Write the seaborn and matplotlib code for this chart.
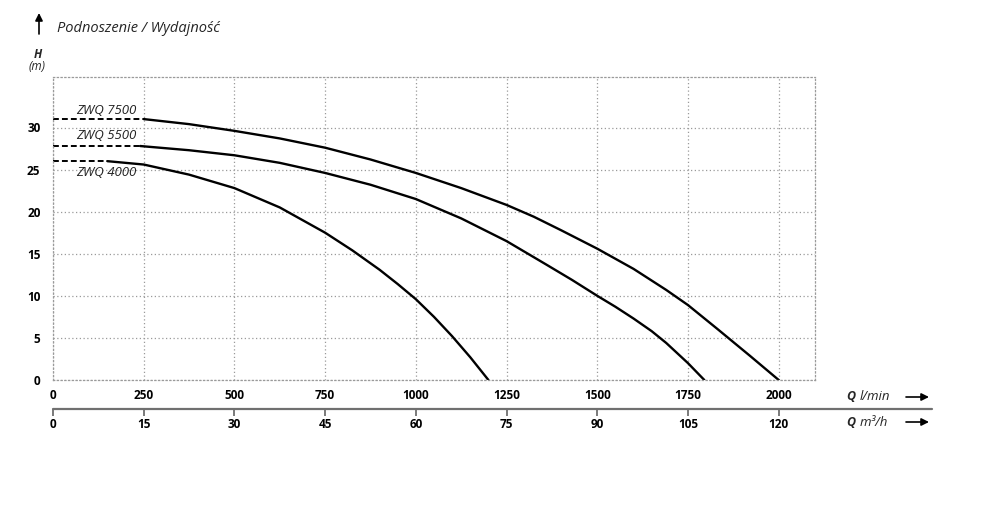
import matplotlib
matplotlib.use("Agg")
import matplotlib.pyplot as plt
import seaborn as sns
import pandas as pd

# ---- data ----
q_7500 = [250, 375, 500, 625, 750, 875, 1000, 1125, 1250, 1325, 1400, 1500, 1600, 1690, 1750, 1830, 1920, 2000]
h_7500 = [31.0, 30.4, 29.6, 28.7, 27.6, 26.2, 24.6, 22.8, 20.8, 19.4, 17.8, 15.6, 13.2, 10.7, 8.9, 6.1, 2.9, 0.0]

q_5500 = [240, 375, 500, 625, 750, 875, 1000, 1125, 1250, 1360, 1430, 1500, 1550, 1600, 1650, 1690, 1750, 1795]
h_5500 = [27.8, 27.3, 26.7, 25.8, 24.6, 23.2, 21.5, 19.2, 16.5, 13.7, 11.9, 10.0, 8.7, 7.3, 5.8, 4.4, 2.0, 0.0]

q_4000 = [150, 250, 375, 500, 625, 750, 825, 900, 950, 1000, 1050, 1100, 1150, 1200]
h_4000 = [26.0, 25.6, 24.4, 22.8, 20.5, 17.5, 15.4, 13.1, 11.4, 9.6, 7.5, 5.2, 2.7, 0.0]

dash_q = {"ZWQ 7500": [0, 250], "ZWQ 5500": [0, 240], "ZWQ 4000": [0, 150]}
dash_h = {"ZWQ 7500": [31.0, 31.0], "ZWQ 5500": [27.8, 27.8], "ZWQ 4000": [26.0, 26.0]}

labels = ["ZWQ 7500", "ZWQ 5500", "ZWQ 4000"]
label_h = [32.0, 29.1, 24.6]

q_lmin_ticks = [0, 250, 500, 750, 1000, 1250, 1500, 1750, 2000]
q_m3h_ticks = [0, 15, 30, 45, 60, 75, 90, 105, 120]
h_ticks = [0, 5, 10, 15, 20, 25, 30]

title = "Podnoszenie / Wydajność"

# ---- style ----
sns.set_theme(style="white")
plt.rcParams["font.family"] = ["Open Sans", "DejaVu Sans"]

W, H = 989, 509
fig = plt.figure(figsize=(W / 100, H / 100), dpi=100)
ax = fig.add_axes([53 / W, 1 - 380 / H, (815 - 53) / W, (380 - 77) / H])

def fx(px):
    return px / W

def fy(py):
    return 1 - py / H

curves = pd.concat([
    pd.DataFrame({"Q": q_7500, "H": h_7500, "pump": "ZWQ 7500"}),
    pd.DataFrame({"Q": q_5500, "H": h_5500, "pump": "ZWQ 5500"}),
    pd.DataFrame({"Q": q_4000, "H": h_4000, "pump": "ZWQ 4000"}),
])
for name in labels:
    d = curves[curves["pump"] == name]
    sns.lineplot(data=d, x="Q", y="H", color="black", lw=1.7, ax=ax,
                 sort=False, estimator=None)
    ax.lines[-1].set_solid_joinstyle("round")
    dd = pd.DataFrame({"Q": dash_q[name], "H": dash_h[name]})
    sns.lineplot(data=dd, x="Q", y="H", color="black", lw=1.4, ax=ax,
                 sort=False, estimator=None)
    ax.lines[-1].set_linestyle((0, (3, 1.6)))

for name, hy in zip(labels, label_h):
    ax.text(229, hy, name, ha="right", va="center", fontsize=9.5,
            style="italic", color="#222222")

ax.set_xlim(0, 2100)
ax.set_ylim(0, 36)
ax.set_xticks(q_lmin_ticks)
ax.set_yticks(h_ticks)
ax.set_xticklabels([str(v) for v in q_lmin_ticks], fontweight="bold", fontsize=8.5)
ax.set_yticklabels([str(v) for v in h_ticks], fontweight="bold", fontsize=8.5)
ax.tick_params(axis="x", length=0, pad=6.5, colors="black")
ax.tick_params(axis="y", length=0, pad=9, colors="black")
ax.set_xlabel("")
ax.set_ylabel("")

grid_kw = dict(color="#9a9a9a", lw=0.9, ls=(0, (1, 2)))
ax.grid(True, **grid_kw)
for s in ax.spines.values():
    s.set_color("#9a9a9a")
    s.set_linewidth(0.9)
    s.set_linestyle((0, (1, 2)))

# secondary m3/h axis
loc = -(409 - 380) / (380 - 77)
sec = ax.secondary_xaxis(loc, functions=(lambda q: q * 0.06, lambda m: m / 0.06))
sec.set_xticks(q_m3h_ticks)
sec.set_xticklabels([str(v) for v in q_m3h_ticks], fontweight="bold", fontsize=8.5)
sec.tick_params(axis="x", length=5, width=1.3, color="#707070", pad=1.5, labelcolor="black")
sec.spines["bottom"].set_visible(False)
ax.plot([0, (932 - 53) / (815 - 53)], [loc, loc], transform=ax.transAxes,
        color="#707070", lw=1.6, clip_on=False)

# axis labels and arrows
for py, unit in [(397, "l/min"), (422, "m³/h")]:
    fig.text(fx(846), fy(py), "Q", fontweight="bold", style="italic",
             fontsize=9, ha="left", va="center")
    fig.text(fx(860), fy(py), unit, style="italic", fontsize=9.5,
             ha="left", va="center")
    ax.annotate("", xy=(fx(929), fy(py)), xytext=(fx(906), fy(py)),
                xycoords="figure fraction", textcoords="figure fraction",
                arrowprops=dict(arrowstyle="-|>", color="black", lw=1.2,
                                mutation_scale=11, shrinkA=0, shrinkB=0))

fig.text(fx(57), fy(28), title, style="italic", fontsize=10.5, ha="left", va="center")
ax.annotate("", xy=(fx(39), fy(13)), xytext=(fx(39), fy(34)),
            xycoords="figure fraction", textcoords="figure fraction",
            arrowprops=dict(arrowstyle="-|>", color="black", lw=1.2,
                            mutation_scale=11, shrinkA=0, shrinkB=0))
fig.text(fx(38), fy(54), "H", fontweight="bold", style="italic", fontsize=8.5,
         ha="center", va="center")
fig.text(fx(37), fy(67), "(m)", style="italic", fontsize=8.5, ha="center", va="center")

fig.savefig("out.png", dpi=100)
